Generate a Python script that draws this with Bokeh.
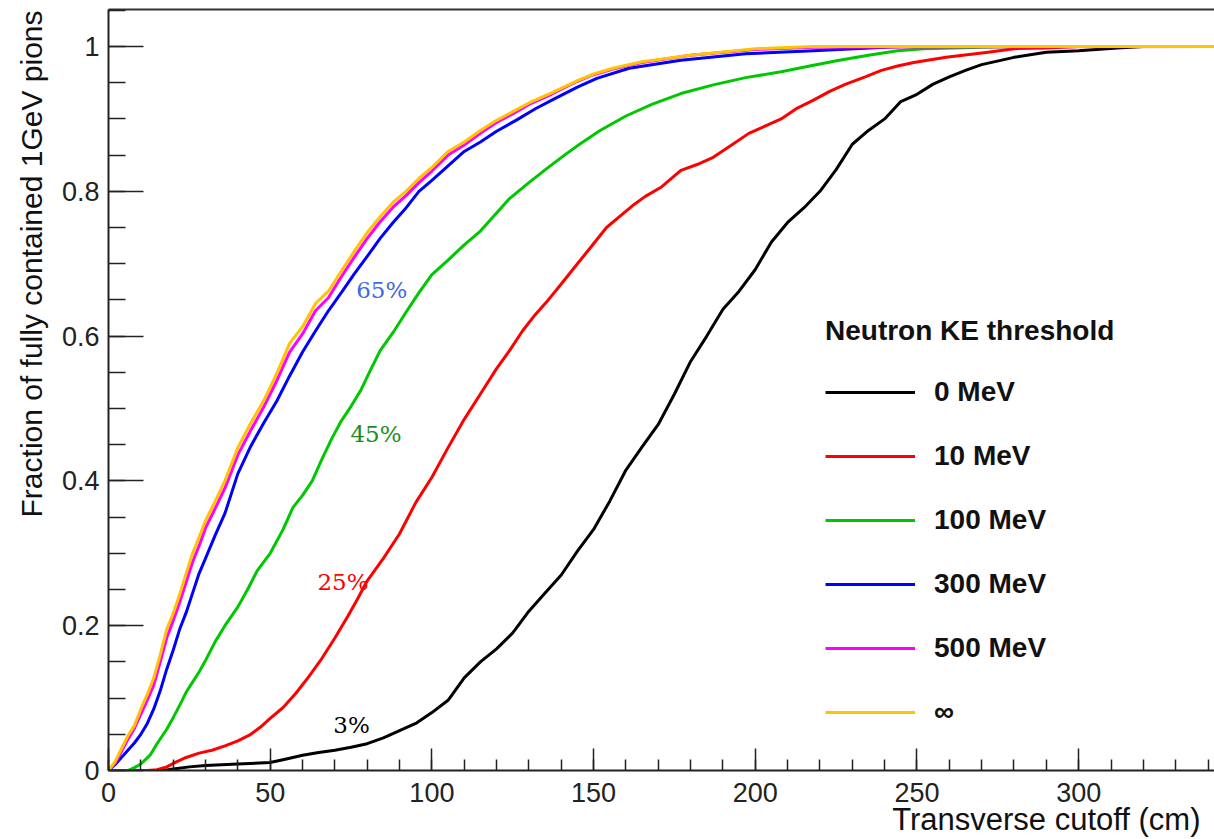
from math import pi
from bokeh.plotting import figure
from bokeh.models import (Range1d, SingleIntervalTicker, LinearAxis, FixedTicker,
                          Legend, LegendItem, Label, Title, CustomJSTickFormatter)
from bokeh.embed import file_html
from bokeh.resources import INLINE

# ---------------- data ----------------
x_0mev = [0, 17, 20, 25, 30, 40, 50, 55, 60, 65, 70, 75, 80, 85, 90, 95, 100, 105, 110, 115,
          120, 125, 130, 135, 140, 145, 150, 155, 160, 165, 170, 175, 180, 185, 190, 195, 200,
          205, 210, 215, 220, 225, 230, 235, 240, 245, 250, 255, 260, 265, 270, 280, 290, 300,
          312, 320]
y_0mev = [0, 0, 0.002, 0.005, 0.007, 0.009, 0.011, 0.016, 0.021, 0.025, 0.028, 0.032, 0.037,
          0.045, 0.055, 0.065, 0.08, 0.097, 0.128, 0.15, 0.168, 0.19, 0.22, 0.245, 0.27, 0.303,
          0.333, 0.372, 0.415, 0.447, 0.478, 0.52, 0.565, 0.6, 0.637, 0.662, 0.692, 0.73, 0.757,
          0.777, 0.8, 0.83, 0.865, 0.884, 0.9, 0.924, 0.934, 0.948, 0.958, 0.967, 0.975, 0.985,
          0.992, 0.994, 0.998, 1.0]

x_10mev = [0, 12, 15, 18, 21, 24, 28, 32, 36, 40, 44, 47, 50, 54, 58, 62, 66, 70, 74, 77,
           80, 85, 90, 95, 100, 105, 110, 115, 120, 124, 128, 132, 136, 140, 145, 149, 154, 158,
           162, 166, 171, 177, 182, 187, 192, 198, 203, 208, 213, 218, 223, 228, 234, 239, 244,
           249, 259, 272, 280, 290, 300]
y_10mev = [0, 0, 0.001, 0.005, 0.012, 0.018, 0.024, 0.028, 0.034, 0.041, 0.05, 0.06, 0.072,
           0.087, 0.107, 0.13, 0.155, 0.183, 0.213, 0.237, 0.262, 0.293, 0.327, 0.37, 0.405, 0.446,
           0.485, 0.52, 0.555, 0.58, 0.607, 0.63, 0.65, 0.672, 0.7, 0.722, 0.75, 0.765, 0.78,
           0.793, 0.806, 0.829, 0.837, 0.847, 0.862, 0.88, 0.89, 0.9, 0.915, 0.926, 0.938, 0.948,
           0.958, 0.967, 0.973, 0.978, 0.985, 0.992, 0.997, 0.998, 1.0]

x_100mev = [0, 6, 8, 10, 13, 15, 18, 20, 22, 24, 26, 28, 30, 33, 36, 40, 43, 46, 50, 54,
            57, 60, 63, 66, 69, 72, 75, 78, 81, 84, 88, 92, 96, 100, 105, 110, 115, 120, 124,
            130, 136, 141, 146, 152, 160, 168, 177, 187, 197, 208, 218, 226, 235, 244, 252, 270,
            280]
y_100mev = [0, 0, 0.004, 0.009, 0.022, 0.037, 0.057, 0.073, 0.09, 0.108, 0.122, 0.136, 0.152,
            0.178, 0.2, 0.226, 0.25, 0.276, 0.3, 0.333, 0.363, 0.38, 0.4, 0.43, 0.458, 0.483,
            0.503, 0.525, 0.553, 0.58, 0.605, 0.633, 0.66, 0.685, 0.705, 0.726, 0.745, 0.77, 0.79,
            0.812, 0.833, 0.85, 0.866, 0.884, 0.904, 0.92, 0.935, 0.947, 0.957, 0.965, 0.974,
            0.981, 0.988, 0.994, 0.997, 0.999, 1.0]

x_300mev = [0, 2, 4, 6, 8, 10, 12, 14, 16, 18, 20, 22, 24, 26, 28, 30, 33, 36, 40, 44,
            48, 52, 56, 60, 64, 68, 72, 76, 80, 84, 88, 92, 96, 100, 105, 110, 115, 120, 126,
            132, 138, 145, 151, 161, 177, 197, 218, 245, 260]
y_300mev = [0, 0.008, 0.018, 0.028, 0.038, 0.05, 0.065, 0.085, 0.11, 0.14, 0.166, 0.195, 0.218,
            0.245, 0.272, 0.293, 0.325, 0.355, 0.41, 0.448, 0.48, 0.51, 0.545, 0.578, 0.607,
            0.635, 0.66, 0.686, 0.71, 0.735, 0.757, 0.777, 0.8, 0.815, 0.835, 0.855, 0.868,
            0.883, 0.898, 0.914, 0.928, 0.944, 0.956, 0.97, 0.981, 0.99, 0.994, 1.0, 1.0]

x_500mev = [0, 2, 4, 6, 8, 10, 12, 14, 16, 18, 20, 22, 24, 26, 28, 30, 33, 36, 40, 44, 48, 52,
            56, 60, 64, 68, 72, 76, 80, 84, 88, 92, 96, 100, 105, 110, 115, 120, 125, 130, 137,
            145, 150, 156, 165, 180, 200, 218, 342]
y_500mev = [0, 0.01, 0.026, 0.043, 0.058, 0.078, 0.097, 0.118, 0.15, 0.183, 0.207, 0.232, 0.26,
            0.288, 0.31, 0.335, 0.362, 0.39, 0.436, 0.47, 0.502, 0.538, 0.578, 0.603, 0.635,
            0.653, 0.682, 0.709, 0.735, 0.758, 0.778, 0.794, 0.812, 0.828, 0.85, 0.864, 0.88,
            0.895, 0.907, 0.92, 0.934, 0.952, 0.961, 0.969, 0.978, 0.988, 0.996, 0.999, 1.0]

x_inf = [0, 2, 4, 6, 8, 10, 12, 14, 16, 18, 20, 22, 24, 26, 28, 30, 33, 36, 40, 44, 48, 52,
         56, 60, 64, 68, 72, 76, 80, 84, 88, 92, 96, 100, 105, 110, 115, 120, 125, 130, 137,
         145, 150, 156, 165, 180, 200, 218, 342]
y_inf = [0, 0.012, 0.03, 0.048, 0.062, 0.085, 0.105, 0.128, 0.16, 0.195, 0.217, 0.243, 0.272,
         0.3, 0.322, 0.345, 0.372, 0.4, 0.446, 0.48, 0.511, 0.548, 0.59, 0.613, 0.645, 0.662,
         0.69, 0.717, 0.743, 0.765, 0.785, 0.8, 0.818, 0.833, 0.855, 0.868, 0.884, 0.898, 0.91,
         0.922, 0.936, 0.953, 0.962, 0.97, 0.979, 0.988, 0.997, 1.0, 1.0]

series_labels = ["0 MeV", "10 MeV", "100 MeV", "300 MeV", "500 MeV", "\u221e"]
series_colors = ["#000000", "#ff0000", "#00c800", "#0000ff", "#ff00ff", "#ffc400"]

note_texts = ["65%", "45%", "25%", "3%"]
note_x = [76.6, 74.8, 64.6, 69.5]
note_y = [0.663, 0.465, 0.261, 0.063]
note_colors = ["#4169e1", "#1e8c1e", "#ff0000", "#000000"]

legend_title = "Neutron KE threshold"
x_title = "Transverse cutoff (cm)"
y_title = "Fraction of fully contained 1GeV pions"

# ---------------- figure ----------------
SANS = "Liberation Sans"

p = figure(width=1214, height=839, output_backend="svg", toolbar_location=None,
           x_range=Range1d(0, 342), y_range=Range1d(0, 1.0511),
           min_border_left=108, min_border_right=0, min_border_top=9, min_border_bottom=69)
p.xgrid.visible = False
p.ygrid.visible = False
p.outline_line_color = None
p.background_fill_color = "white"
p.border_fill_color = "white"

xa = p.xaxis[0]
xa.ticker = SingleIntervalTicker(interval=50, num_minor_ticks=5)
xa.major_tick_in = 22
xa.major_tick_out = 0
xa.minor_tick_in = 11
xa.minor_tick_out = 0
xa.major_label_standoff = 12
xa.major_label_text_font = SANS
xa.major_label_text_font_size = "27px"
xa.major_label_text_color = "#222222"

ya = p.yaxis[0]
ya.ticker = SingleIntervalTicker(interval=0.2, num_minor_ticks=4)
ya.formatter = CustomJSTickFormatter(code="return String(Math.round(tick*10)/10)")
ya.major_tick_in = 35
ya.major_tick_out = 0
ya.minor_tick_in = 17
ya.minor_tick_out = 0
ya.major_label_standoff = 9
ya.major_label_text_font = SANS
ya.major_label_text_font_size = "27px"
ya.major_label_text_color = "#222222"

for ax in (xa, ya):
    ax.axis_line_width = 2
    ax.axis_line_color = "#222222"
    ax.major_tick_line_width = 1.5
    ax.minor_tick_line_width = 1.5
    ax.major_tick_line_color = "#222222"
    ax.minor_tick_line_color = "#222222"

top_axis = LinearAxis(ticker=FixedTicker(ticks=[]), axis_line_width=2,
                      axis_line_color="#333333", major_tick_line_color=None,
                      minor_tick_line_color=None)
p.add_layout(top_axis, "above")

xs = [x_0mev, x_10mev, x_100mev, x_300mev, x_500mev, x_inf]
ys = [y_0mev, y_10mev, y_100mev, y_300mev, y_500mev, y_inf]
items = []
for xv, yv, lab, col in zip(xs, ys, series_labels, series_colors):
    r = p.line(xv, yv, line_color=col, line_width=3, line_join="round")
    items.append(LegendItem(label=lab, renderers=[r]))

legend = Legend(items=items, location=(717, 38), title=legend_title,
                title_text_font=SANS, title_text_font_style="bold",
                title_text_font_size="28px", title_standoff=25, title_text_color="#111111",
                label_text_font=SANS, label_text_font_style="bold",
                label_text_font_size="28px", label_standoff=19, label_text_color="#111111",
                glyph_width=90, glyph_height=40, label_height=40, spacing=24,
                padding=0, margin=0, border_line_color=None, background_fill_alpha=0)
p.add_layout(legend)

for t, x, y, c in zip(note_texts, note_x, note_y, note_colors):
    p.add_layout(Label(x=x, y=y, text=t, text_color=c, text_font="DejaVu Serif",
                       text_font_size="23px", text_baseline="alphabetic", text_align="left"))

# axis titles as side-panel titles (ROOT style: aligned to the axis ends)
try:
    xt = Title(text=x_title, align="right", offset=14, standoff=-10,
               text_font=SANS, text_font_size="31px", text_font_style="normal",
               text_color="#111111")
except Exception:
    xt = Title(text=x_title, align="right", offset=14, standoff=0,
               text_font=SANS, text_font_size="31px", text_font_style="normal",
               text_color="#111111")
p.add_layout(xt, "below")

yt = Title(text=y_title, align="right", offset=1, standoff=21,
           text_font=SANS, text_font_size="30px", text_font_style="normal",
           text_color="#111111")
p.add_layout(yt, "left")

open("out.html", "w").write(file_html(p, INLINE))
